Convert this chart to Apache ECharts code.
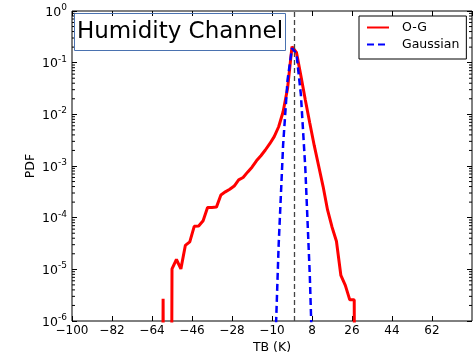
<!DOCTYPE html>
<html>
<head>
<meta charset="utf-8">
<script src="https://cdn.jsdelivr.net/npm/echarts@6/dist/echarts.min.js"></script>
<style>
html,body{margin:0;padding:0;background:#fff;}
#c{width:475px;height:356px;}
</style>
</head>
<body>
<div id="c"></div>
<script>
// ---- data ----
const binCenters = [-61,-59,-57,-55,-53,-51,-49,-47,-45,-43,-41,-39,-37,-35,-33,-31,-29,-27,-25,-23,-21,-19,-17,-15,-13,-11,-9,-7,-5,-3,-1,1,3,5,7,9,11,13,15,17,19,21,23,25,27,29];
const ogValues = [0,2.7e-6,0,1.02e-5,1.55e-5,1.02e-5,2.9e-5,3.4e-5,6.8e-5,6.9e-5,8.7e-5,1.58e-4,1.58e-4,1.6e-4,2.75e-4,3.16e-4,3.55e-4,4.1e-4,5.4e-4,6.0e-4,7.6e-4,9.5e-4,1.26e-3,1.58e-3,2.04e-3,2.7e-3,3.7e-3,5.75e-3,1.12e-2,3.16e-2,0.204,0.158,5.6e-2,1.9e-2,6.8e-3,2.5e-3,1.0e-3,4.0e-4,1.41e-4,6.6e-5,3.5e-5,7.6e-6,4.9e-6,2.57e-6,2.57e-6,0];
const gaussX = [-9,-7,-5,-3,-1,1,3,5,7,9];
const gaussValues = [7.6e-8,3.0e-5,2.55e-3,4.62e-2,0.19,0.15,0.024,8.9e-4,7.9e-6,1.26e-8];
const meanLine = [0];
const xTickValues = [-100,-82,-64,-46,-28,-10,8,26,44,62,80];
const yTickValues = [1e-6,1e-5,1e-4,1e-3,1e-2,1e-1,1];
const minorTickValues = [2e-6,3e-6,4e-6,5e-6,6e-6,7e-6,8e-6,9e-6,
  2e-5,3e-5,4e-5,5e-5,6e-5,7e-5,8e-5,9e-5,
  2e-4,3e-4,4e-4,5e-4,6e-4,7e-4,8e-4,9e-4,
  2e-3,3e-3,4e-3,5e-3,6e-3,7e-3,8e-3,9e-3,
  2e-2,3e-2,4e-2,5e-2,6e-2,7e-2,8e-2,9e-2,
  2e-1,3e-1,4e-1,5e-1,6e-1,7e-1,8e-1,9e-1];

const X_MIN = xTickValues[0], X_MAX = xTickValues[xTickValues.length-1];
const X_INT = xTickValues[1]-xTickValues[0];
const Y_MIN = yTickValues[0], Y_MAX = yTickValues[yTickValues.length-1];
const ZERO_CLIP = 1e-30; // empty bins: drawn far below the axis, clipped like matplotlib

const FONT = 'DejaVu Sans';
const chart = echarts.init(document.getElementById('c'), null, {renderer:'canvas'});

const ogData = binCenters.map((x,i)=>[x, ogValues[i] > 0 ? ogValues[i] : ZERO_CLIP]);
const gaussData = gaussX.map((x,i)=>[x, gaussValues[i]]);

const xAxisCommon = {
  type:'value', min:X_MIN, max:X_MAX, interval:X_INT,
  axisLine:{show:false, onZero:false}, splitLine:{show:false},
  axisTick:{inside:true, length:5, lineStyle:{color:'#000', width:1}}
};
const yAxisCommon = {
  type:'log', logBase:10, min:Y_MIN, max:Y_MAX, splitNumber:6,
  axisLine:{show:false, onZero:false}, splitLine:{show:false}, minorTick:{show:false},
  axisTick:{inside:true, length:5, lineStyle:{color:'#000', width:1}}
};

const option = {
  animation:false,
  backgroundColor:'#fff',
  textStyle:{fontFamily:FONT},
  title:{
    text:'Humidity Channel', left:74, top:13, padding:[5,3,5,3],
    borderColor:'#4a72b0', borderWidth:1,
    textStyle:{fontFamily:FONT, fontSize:23, fontWeight:'normal', color:'#000', lineHeight:28}
  },
  legend:{
    data:['O-G','Gaussian'], orient:'vertical', left:359, top:16,
    padding:[5,7,8,7], itemWidth:22, itemHeight:12, itemGap:4,
    borderColor:'#000', borderWidth:1, backgroundColor:'#fff',
    itemStyle:{opacity:0},
    textStyle:{fontFamily:FONT, fontSize:12.5, color:'#000', padding:[0,0,0,8]}
  },
  grid:{left:72, right:3, top:11, bottom:35, outerBoundsMode:'none', show:true, borderColor:'#000', borderWidth:1, backgroundColor:'transparent'},
  xAxis:[
    Object.assign({}, xAxisCommon, {
      position:'bottom',
      axisLabel:{showMaxLabel:false, fontFamily:FONT, fontSize:12, color:'#000', margin:4,
        formatter:v=>String(v).replace('-','\u2212')},
      name:'TB (K)', nameLocation:'middle', nameGap:20, nameMoveOverlap:false,
      nameTextStyle:{fontFamily:FONT, fontSize:12.5, color:'#000'}
    }),
    Object.assign({}, xAxisCommon, {position:'top', axisLabel:{show:false}})
  ],
  yAxis:[
    Object.assign({}, yAxisCommon, {
      position:'left',
      axisLabel:{margin:5, color:'#000',
        formatter:v=>'{b|10}{s|' + Math.round(Math.log10(v)) + '}',
        rich:{
          b:{fontFamily:FONT, fontSize:12.5, lineHeight:16, verticalAlign:'bottom', color:'#000'},
          s:{fontFamily:FONT, fontSize:9, lineHeight:9, verticalAlign:'top', color:'#000'}
        }
      },
      name:'PDF', nameLocation:'middle', nameGap:35, nameMoveOverlap:false,
      nameTextStyle:{fontFamily:FONT, fontSize:12.5, color:'#000'}
    }),
    Object.assign({}, yAxisCommon, {position:'right', axisLabel:{show:false}})
  ],
  series:[
    {
      name:'O-G', type:'line', data:ogData, xAxisIndex:0, yAxisIndex:0,
      symbol:'none', showSymbol:false, clip:true,
      lineStyle:{color:'#ff0000', width:3},
      itemStyle:{color:'#ff0000'}, z:3
    },
    {
      name:'Gaussian', type:'line', data:gaussData, xAxisIndex:0, yAxisIndex:0,
      symbol:'none', showSymbol:false, clip:true,
      lineStyle:{color:'#0000ff', width:2.5, type:[7,4]},
      itemStyle:{color:'#0000ff'}, z:4,
      markLine:{
        silent:true, symbol:['none','none'], label:{show:false},
        lineStyle:{color:'#444', width:1.3, type:[5,3]},
        data:[{xAxis:meanLine[0]}]
      }
    },
    {
      name:'minor', type:'custom', silent:true, xAxisIndex:0, yAxisIndex:0,
      data:minorTickValues.map(v=>[X_MIN, v]),
      encode:{x:0, y:1},
      renderItem:(params, api)=>{
        const v = api.value(1);
        const p1 = api.coord([X_MIN, v]);
        const p2 = api.coord([X_MAX, v]);
        return {type:'group', children:[
          {type:'line', shape:{x1:p1[0], y1:p1[1], x2:p1[0]+3, y2:p1[1]}, style:{stroke:'#000', lineWidth:1}},
          {type:'line', shape:{x1:p2[0]-3, y1:p2[1], x2:p2[0], y2:p2[1]}, style:{stroke:'#000', lineWidth:1}}
        ]};
      }
    }
  ]
};
chart.setOption(option);
</script>
</body>
</html>
